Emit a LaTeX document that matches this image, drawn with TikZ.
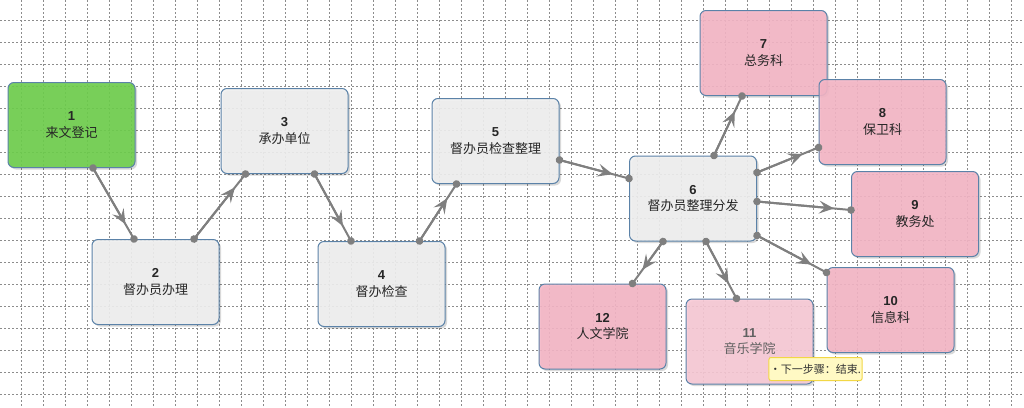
\documentclass[tikz,border=0pt]{standalone}
\usepackage{fontspec}
\setmainfont{Liberation Sans}
\newfontfamily\cjk{Noto Sans CJK SC}
\usetikzlibrary{arrows.meta,shadows}
\definecolor{gridc}{HTML}{8C8C8C}
\definecolor{borderc}{HTML}{5B82A8}
\definecolor{startc}{HTML}{6ECF4C}
\definecolor{taskc}{HTML}{F0F0F0}
\definecolor{deptc}{HTML}{F5B6C6}
\definecolor{hoverc}{HTML}{F8C9D5}
\definecolor{linec}{HTML}{7F7F7F}
\definecolor{tipc}{HTML}{FFF9C4}
\definecolor{tipborderc}{HTML}{F2D745}
\tikzset{
  flowhead/.tip={Stealth[length=15pt 0 0, width=13pt 0 0, inset=6pt 0 0]},
  flowdot/.tip={Circle[length=7.5pt 0 0]},
  gridline/.style={gridc, line width=1pt, dash pattern=on 2pt off 2pt},
  stepbox/.style={draw=borderc, line width=1pt, rounded corners=6pt,
    minimum width=127pt, minimum height=85pt, fill opacity=0.9, text opacity=1,
    align=center, font=\fontsize{13pt}{16.5pt}\selectfont, text=black!85,
    drop shadow={shadow xshift=2pt, shadow yshift=-2pt, opacity=0.15, fill=black}},
  startbox/.style={stepbox, fill=startc},
  taskbox/.style={stepbox, fill=taskc},
  deptbox/.style={stepbox, fill=deptc},
  hoverbox/.style={stepbox, fill=hoverc, text=black!62},
  hint/.style={draw=tipborderc, fill=tipc, line width=1pt, rounded corners=2pt,
    minimum width=88pt, minimum height=23pt, inner sep=1pt,
    font=\cjk\fontsize{11pt}{12pt}\selectfont, text=black!80},
  flow/.style={draw=linec, line width=2pt, -flowhead, shorten >=17pt,
    preaction={draw=linec, line width=2pt, flowdot-flowdot,
      shorten <=-3.75pt, shorten >=-3.75pt}},
}
\newcommand{\stepname}[2]{\textbf{#1}\\{\cjk #2}}
\begin{document}
\begin{tikzpicture}[x=1pt, y=-1pt]
    \useasboundingbox (0,0) rectangle (1024,407);
    \fill[white] (0,0) rectangle (1024,407);
    % background grid
    \foreach \i in {0,...,46}
        \draw[gridline] (21.7+22*\i,0) -- (21.7+22*\i,407);
    \foreach \j in {0,...,18}
        \draw[gridline] (0,20+22*\j) -- (1024,20+22*\j);
    % steps
    \node[startbox] (n1) at (71.5,125) {\stepname{1}{来文登记}};
    \node[taskbox] (n2) at (155.5,282) {\stepname{2}{督办员办理}};
    \node[taskbox] (n3) at (284.5,131) {\stepname{3}{承办单位}};
    \node[taskbox] (n4) at (381.5,284) {\stepname{4}{督办检查}};
    \node[taskbox] (n5) at (495.5,141) {\stepname{5}{督办员检查整理}};
    \node[taskbox] (n6) at (693,198.5) {\stepname{6}{督办员整理分发}};
    \node[deptbox] (n7) at (763.5,53) {\stepname{7}{总务科}};
    \node[deptbox] (n8) at (882.5,122) {\stepname{8}{保卫科}};
    \node[deptbox] (n9) at (915,214) {\stepname{9}{教务处}};
    \node[deptbox] (n10) at (890.5,310) {\stepname{10}{信息科}};
    \node[deptbox] (n12) at (602.5,326.5) {\stepname{12}{人文学院}};
    \node[hoverbox] (n11) at (749.5,341.5) {\stepname{11}{音乐学院}};
    % connectors
    \draw[flow] ([xshift=21.5pt]n1.south) -- ([xshift=-21.5pt]n2.north);
    \draw[flow] ([xshift=38.5pt]n2.north) -- ([xshift=-39pt]n3.south);
    \draw[flow] ([xshift=30pt]n3.south) -- ([xshift=-30.5pt]n4.north);
    \draw[flow] ([xshift=38pt]n4.north) -- ([xshift=-39pt]n5.south);
    \draw[flow] ([yshift=-19pt]n5.east) -- ([yshift=20pt]n6.west);
    \draw[flow] ([xshift=21pt]n6.north) -- ([xshift=-21.5pt]n7.south);
    \draw[flow] ([yshift=26pt]n6.east) -- ([yshift=-25.5pt]n8.west);
    \draw[flow] ([yshift=-3pt]n6.east) -- ([yshift=4pt]n9.west);
    \draw[flow] ([yshift=-37pt]n6.east) -- ([yshift=37.5pt]n10.west);
    \draw[flow] ([xshift=-30pt]n6.south) -- ([xshift=30pt]n12.north);
    \draw[flow] ([xshift=13pt]n6.south) -- ([xshift=-13pt]n11.north);
    % hover hint
    \node[hint] (tip11) at (815.5,369) {·下一步骤：结束.};
\end{tikzpicture}
\end{document}
